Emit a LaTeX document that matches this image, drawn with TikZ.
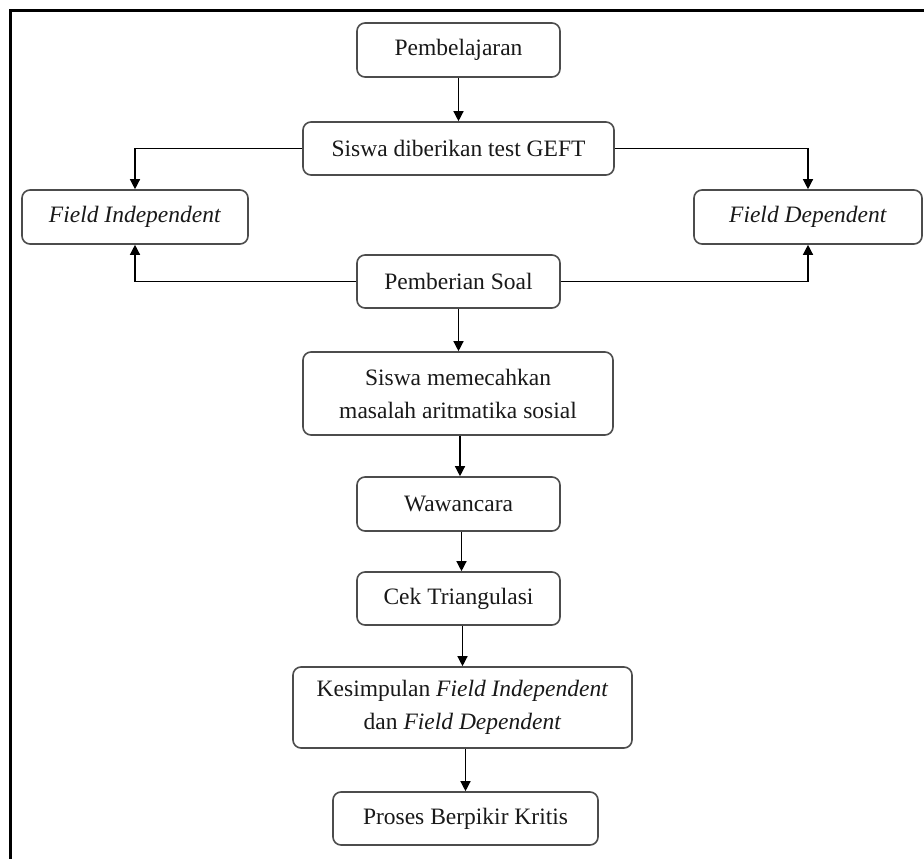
\documentclass[tikz,border=0pt]{standalone}
\usepackage{fontspec}
\setmainfont{Liberation Serif}
\usetikzlibrary{arrows.meta}
\begin{document}
\begin{tikzpicture}[x=1pt,y=-1pt,
  box/.style={draw=black!70, line width=1.6pt, rounded corners=8pt, fill=white,
    align=center, inner sep=0pt, text=black!90,
    font=\fontsize{23.5}{33}\selectfont},
  arr/.style={draw=black, line width=1.3pt, -{Triangle[length=10pt,width=10pt]}}]
\useasboundingbox (0,0) rectangle (924,859);
\fill[white] (0,0) rectangle (924,859);
\draw[line width=3pt, black] (10.5,880) -- (10.5,10.5) -- (940,10.5);

\node[box, minimum width=203pt, minimum height=54pt] (pemb) at (458.5,50) {Pembelajaran};
\node[box, minimum width=311pt, minimum height=53pt] (geft) at (458.5,148.5) {Siswa diberikan test GEFT};
\node[box, minimum width=226pt, minimum height=54pt] (fi) at (135,217) {\textit{Field Independent}};
\node[box, minimum width=228pt, minimum height=54pt] (fd) at (808,217) {\textit{Field Dependent}};
\node[box, minimum width=203pt, minimum height=53pt] (soal) at (458.5,281.5) {Pemberian Soal};
\node[box, minimum width=310pt, minimum height=83pt] (siswa) at (458,393.5) {Siswa memecahkan\\masalah aritmatika sosial};
\node[box, minimum width=203pt, minimum height=54pt] (waw) at (458.5,504) {Wawancara};
\node[box, minimum width=203pt, minimum height=53pt] (cek) at (458.5,598.5) {Cek Triangulasi};
\node[box, minimum width=339pt, minimum height=81pt] (kes) at (462.5,707.5) {Kesimpulan \textit{Field Independent}\\dan \textit{Field Dependent}};
\node[box, minimum width=265pt, minimum height=53pt] (pro) at (465.5,818.5) {Proses Berpikir Kritis};

\draw[arr] (pemb.south) -- (pemb.south |- geft.north);
\draw[arr] (geft.west) -| (fi.north);
\draw[arr] (geft.east) -| (fd.north);
\draw[arr] (soal.west) -| (fi.south);
\draw[arr] (soal.east) -| (fd.south);
\draw[arr] (soal.south) -- (soal.south |- siswa.north);
\draw[arr] ([xshift=2pt]siswa.south) -- ([xshift=2pt]siswa.south |- waw.north);
\draw[arr] ([xshift=3pt]waw.south) -- ([xshift=3pt]waw.south |- cek.north);
\draw[arr] ([xshift=4pt]cek.south) -- ([xshift=4pt]cek.south |- kes.north);
\draw[arr] ([xshift=3pt]kes.south) -- ([xshift=3pt]kes.south |- pro.north);
\end{tikzpicture}
\end{document}
